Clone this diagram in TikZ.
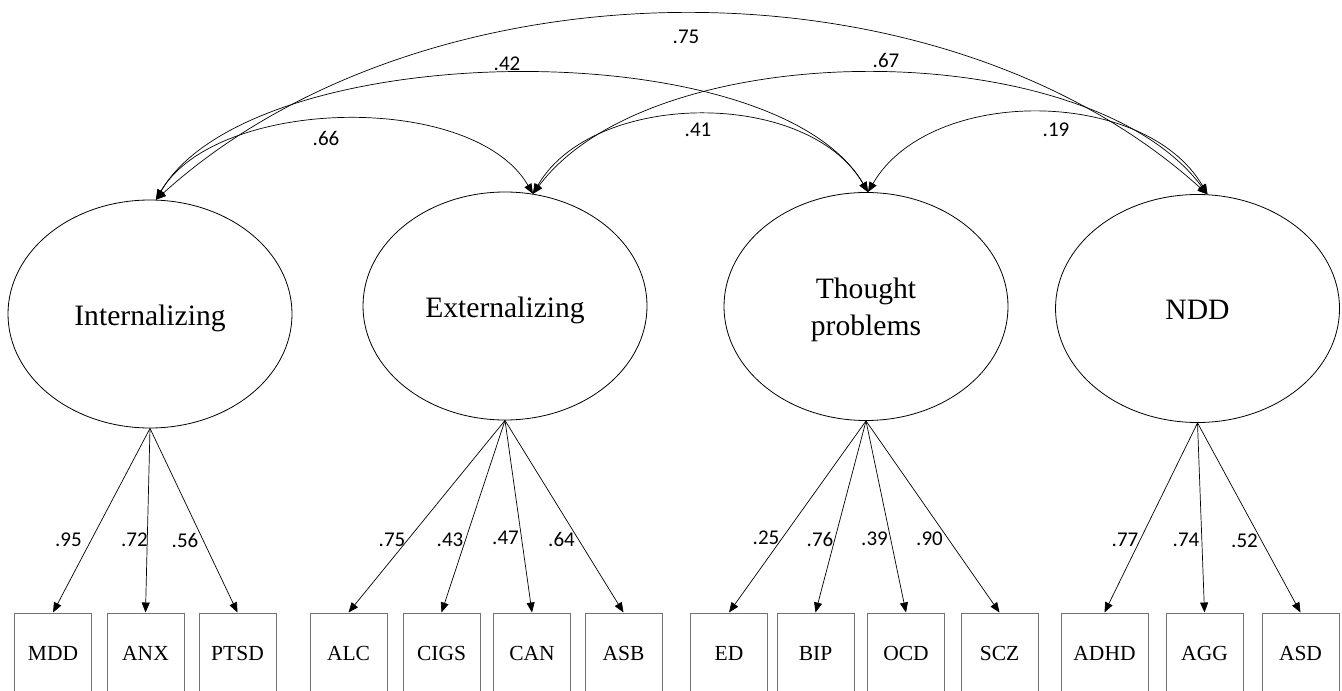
\documentclass[tikz,border=0pt]{standalone}
\usepackage{fontspec}
\setmainfont{Liberation Serif}
\newfontfamily\numfont{Carlito}
\usetikzlibrary{arrows.meta,shapes.geometric}
\begin{document}
\begin{tikzpicture}[x=0.5pt,y=-0.5pt,
  latent/.style={ellipse,draw,line width=0.4pt,minimum width=142pt,minimum height=114pt,inner sep=0pt,font=\fontsize{14.8}{18.5}\selectfont,align=center},
  latentone/.style={latent,text height=11pt,text depth=0pt},
  obs/.style={rectangle,draw=black!55,line width=0.5pt,minimum width=38.5pt,minimum height=40pt,inner sep=0pt,font=\fontsize{10.75}{12}\selectfont},
  load/.style={-{Triangle[length=5pt,width=4pt]},line width=0.35pt},
  cov/.style={{Triangle[length=5pt,width=4pt]}-{Triangle[length=5pt,width=4pt]},line width=0.35pt},
  num/.style={font=\numfont\fontsize{10.5}{12}\selectfont,inner sep=0pt}]
\useasboundingbox (0,0) rectangle (1342,690);

% latent factors
\node[latentone] (int) at (150,314) {Internalizing};
\node[latentone] (ext) at (505,306) {Externalizing};
\node[latent] (tp)  at (866,306.5) {\rule{0pt}{14pt}Thought\\problems};
\node[latentone] (ndd) at (1197.5,308.5) {NDD};

% observed indicators
\node[obs] (mdd)  at (53,653)   {MDD};
\node[obs] (anx)  at (145.5,653) {ANX};
\node[obs] (ptsd) at (237.5,653) {PTSD};
\node[obs] (alc)  at (348.5,653) {ALC};
\node[obs] (cigs) at (441.5,653) {CIGS};
\node[obs] (can)  at (532,653)  {CAN};
\node[obs] (asb)  at (623.5,653) {ASB};
\node[obs] (ed)   at (729,653)  {ED};
\node[obs] (bip)  at (815.5,653) {BIP};
\node[obs] (ocd)  at (906,653)  {OCD};
\node[obs] (scz)  at (999.5,653) {SCZ};
\node[obs,minimum width=43.5pt] (adhd) at (1104.5,653) {ADHD};
\node[obs] (agg)  at (1204.5,653) {AGG};
\node[obs] (asd)  at (1300.5,653) {ASD};

% loadings
\draw[load] (int.south) -- (mdd.north);
\draw[load] (int.south) -- (anx.north);
\draw[load] (int.south) -- (ptsd.north);
\draw[load] (ext.south) -- (alc.north);
\draw[load] (ext.south) -- (cigs.north);
\draw[load] (ext.south) -- (can.north);
\draw[load] (ext.south) -- (asb.north);
\draw[load] (tp.south) -- (ed.north);
\draw[load] (tp.south) -- (bip.north);
\draw[load] (tp.south) -- (ocd.north);
\draw[load] (tp.south) -- (scz.north);
\draw[load] (ndd.south) -- (adhd.north);
\draw[load] (ndd.south) -- (agg.north);
\draw[load] (ndd.south) -- (asd.north);

\node[num] (l1) at (68.5,540) {.95};
\node[num] (l2) at (134.5,540) {.72};
\node[num] (l3) at (185,540) {.56};
\node[num] (l4) at (392,540) {.75};
\node[num] (l5) at (450,540) {.43};
\node[num] (l6) at (505.5,538) {.47};
\node[num] (l7) at (561.5,539) {.64};
\node[num] (l8) at (766,538) {.25};
\node[num] (l9) at (820,539) {.76};
\node[num] (l10) at (874.5,539) {.39};
\node[num] (l11) at (929.5,539) {.90};
\node[num] (l12) at (1125,540) {.77};
\node[num] (l13) at (1186,540) {.74};
\node[num] (l14) at (1244.5,541) {.52};

% covariances
\draw[cov] (int.87) .. controls +(270,-244) and +(-270,-244) .. (ndd.85);
\draw[cov] (int.87) .. controls +(95,-163) and +(-95,-163) .. (tp.89);
\draw[cov] (int.87) .. controls +(60,-103) and +(-60,-103) .. (ext.76);
\draw[cov] (ext.76) .. controls +(120,-161) and +(-120,-161) .. (ndd.85);
\draw[cov] (ext.76) .. controls +(60,-104) and +(-60,-104) .. (tp.89);
\draw[cov] (tp.89) .. controls +(62,-107) and +(-62,-107) .. (ndd.85);

\node[num] (c1) at (686,37) {.75};
\node[num] (c2) at (507,64) {.42};
\node[num] (c3) at (326,138) {.66};
\node[num] (c4) at (698,130) {.41};
\node[num] (c5) at (886,60) {.67};
\node[num] (c6) at (1056,130) {.19};
\end{tikzpicture}
\end{document}
